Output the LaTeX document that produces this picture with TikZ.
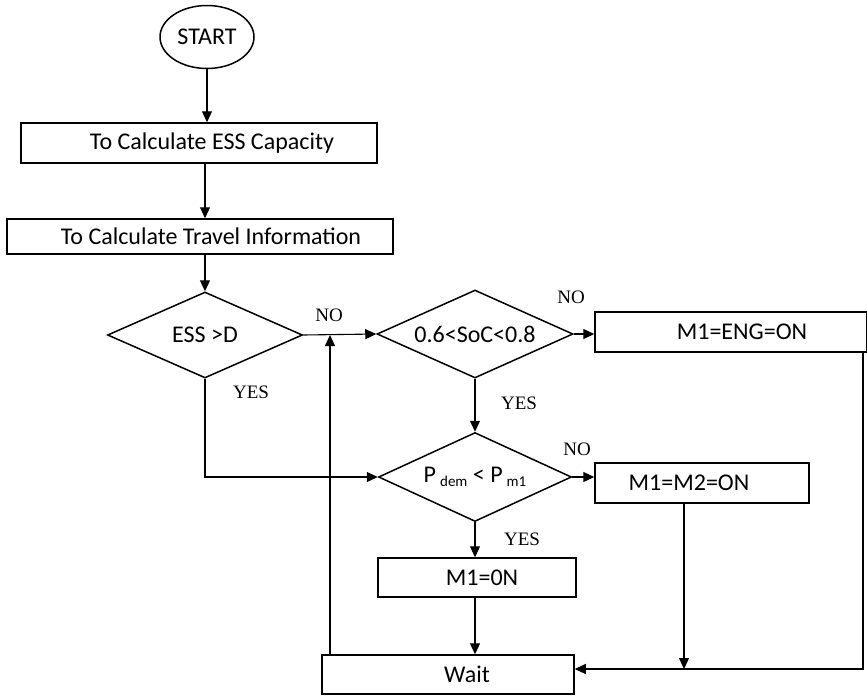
\documentclass[tikz,border=0pt]{standalone}
\usepackage{fontspec}
\setmainfont{Carlito}
\newfontfamily\labelfont{Liberation Serif}
\usetikzlibrary{shapes.geometric,arrows.meta}
\newcommand\lowsub[1]{\raisebox{-0.3ex}{\fontsize{15}{15}\selectfont #1}}
\tikzset{
  box/.style={draw,line width=1.5pt,inner sep=0pt,font=\fontsize{24}{27}\selectfont},
  decision/.style={draw,diamond,shape aspect=2.2,line width=1.5pt,inner sep=0pt,font=\fontsize{24}{27}\selectfont},
  yesno/.style={font=\labelfont\fontsize{19}{21}\selectfont},
  flow/.style={line width=1.1pt,-{Triangle[length=11pt,width=10pt]}}
}
\begin{document}
\begin{tikzpicture}[x=1pt,y=-1pt]
  \useasboundingbox (0,0) rectangle (867,699);
  % start and the two calculation steps
  \node[box,ellipse,minimum width=94pt,minimum height=63pt] (start) at (207,37) {START};
  \node[box,minimum width=356pt,minimum height=40pt] (cap) at (199,143) {\hspace*{26pt}To Calculate ESS Capacity};
  \node[box,minimum width=386pt,minimum height=35pt] (travel) at (200,236.5) {\hspace*{22pt}To Calculate Travel Information};
  % decisions
  \node[decision,minimum width=195pt,minimum height=86pt] (ess) at (205,335) {ESS >D};
  \node[decision,minimum width=196pt,minimum height=88pt] (soc) at (475,334) {0.6<SoC<0.8};
  \node[decision,minimum width=193pt,minimum height=89pt] (pdem) at (475,477) {P\,\lowsub{dem} < P\,\lowsub{m1}};
  % mode boxes
  \node[box,minimum width=272pt,minimum height=40pt] (eng) at (731,332) {\hspace*{22pt}M1=ENG=ON};
  \node[box,minimum width=214pt,minimum height=40pt] (mm) at (702,483) {M1=M2=ON\hspace*{26pt}};
  \node[box,minimum width=198pt,minimum height=39pt] (mone) at (477,577.5) {\hspace*{10pt}M1=0N};
  \node[box,minimum width=252pt,minimum height=39pt] (wait) at (448,674.5) {\hspace*{38pt}Wait};
  % yes / no labels
  \node[yesno] (nessno) at (329,315) {NO};
  \node[yesno] (nessyes) at (251,392) {YES};
  \node[yesno] (nsocno) at (571,297) {NO};
  \node[yesno] (nsocyes) at (519,403) {YES};
  \node[yesno] (npno) at (577,449) {NO};
  \node[yesno] (npyes) at (522,539) {YES};
  % helper points on the return lines
  \coordinate (back) at (863,669);
  \coordinate (drop) at (684,669);
  \coordinate (loop) at (330,335);
  % connectors
  \draw[flow] (start.south) -- (start.south |- cap.north);
  \draw[flow] (cap.south -| ess.north) -- (travel.north -| ess.north);
  \draw[flow] (travel.south -| ess.north) -- (ess.north);
  \draw[flow] (ess.east) -- (soc.west);
  \draw[flow] (soc.east) -- (soc.east -| eng.west);
  \draw[flow] (soc.south) -- (pdem.north);
  \draw[flow] (ess.south) |- (pdem.west);
  \draw[flow] (pdem.east) -- (pdem.east -| mm.west);
  \draw[flow] (pdem.south) -- (pdem.south |- mone.north);
  \draw[flow] (mone.south -| pdem.south) -- (pdem.south |- wait.north);
  \draw[flow] (eng.south -| back) -- (back) -- (back -| wait.east);
  \draw[flow] (mm.south -| drop) -- (drop);
  \draw[flow] (wait.north -| loop) -- (loop);
\end{tikzpicture}
\end{document}
